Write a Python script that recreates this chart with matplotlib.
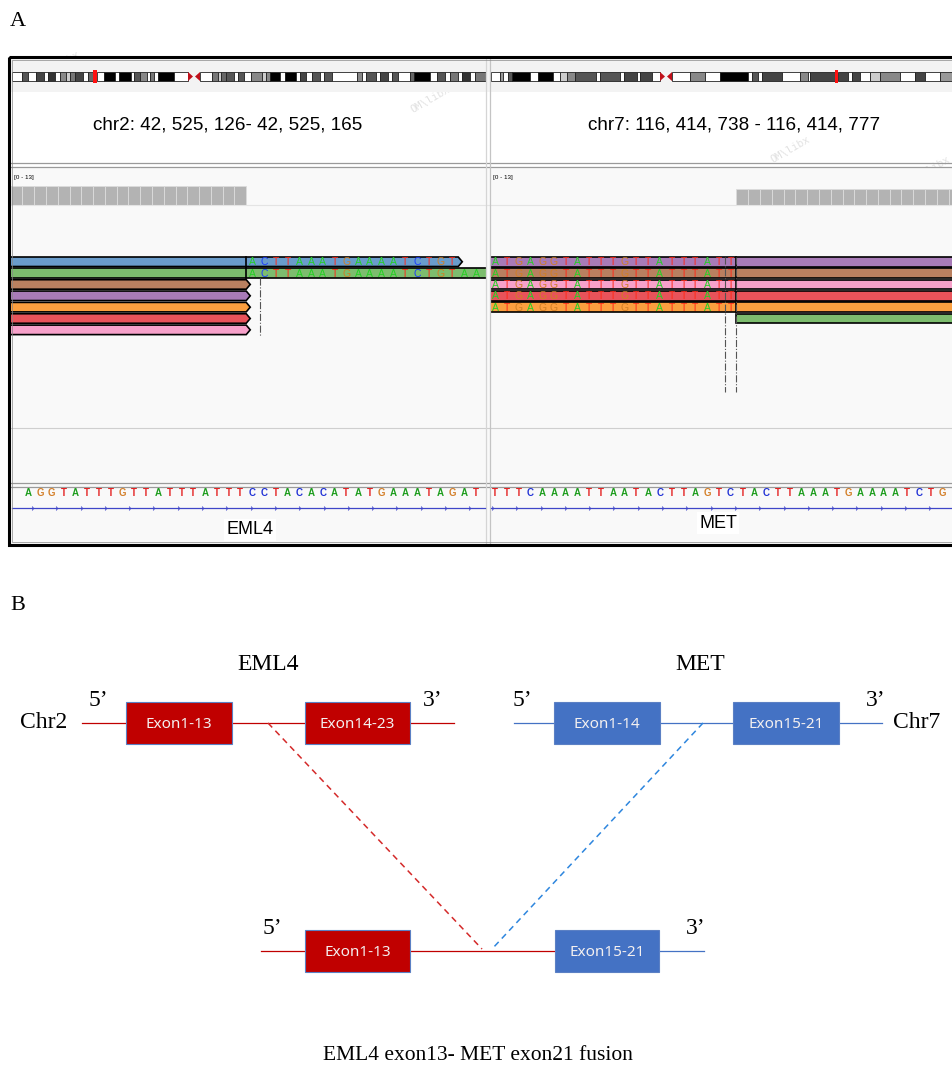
import matplotlib.pyplot as plt
from matplotlib.patches import Rectangle, Polygon
import numpy as np

plt.rcParams['font.family'] = ['Liberation Sans', 'DejaVu Sans']
SERIF = ['Liberation Serif', 'DejaVu Serif']

# ---------------- data ----------------
# reference sequences shown under the two IGV windows
eml4_ref = "AGGTATTTGTTATTTATTTCCTACACATATGAAATAGAT"
met_ref = "TTTCAAAATTAATACTTAGTCTACTTAAATGAAAATCTG"

eml4_locus = "chr2: 42, 525, 126- 42, 525, 165"
met_locus = "chr7: 116, 414, 738 - 116, 414, 777"

# EML4 side reads (top to bottom): colour, last aligned base, soft-clipped bases
eml4_read_colors = ['#6a9ccb', '#7dbd6e', '#b98060', '#a87bb7', '#fb9f3f', '#e8535a', '#f7a1ca']
eml4_aligned_end = [18, 18, 18, 18, 18, 18, 18]
eml4_softclip = ["ACTTAAATGAAAATCTGT", "ACTTAAATGAAAATCTGTAA", "", "", "", "", ""]
eml4_read_open = [False, True, False, False, False, False, False]  # read runs on past the window
eml4_junction = [19.7]

# MET side reads: colour, first aligned base, soft-clipped bases before it
met_read_colors = ['#a87bb7', '#b98060', '#f7a1ca', '#e8535a', '#fb9f3f', '#7dbd6e']
met_aligned_start = [21, 21, 21, 21, 21, 21]
met_softclip = ["ATGAGGTATTTGTTATTTATT"] * 5 + [""]
met_junction = [19.5, 20.5]

# coverage (reads per base) over the visible bases
eml4_cov_bases = np.arange(-1, 19)
eml4_cov = [7] * 20
met_cov_bases = np.arange(21, 40)
met_cov = [6] * 19

# cytobands of the ideograms: edges (px) and stain
chr2_edges = [12, 22, 28, 36, 44, 48, 55, 60, 66, 70, 75, 83, 88, 93, 97, 104, 115, 119, 131, 134,
              140, 147, 150, 154, 158, 174, 188, 200, 212, 218, 221, 226, 234, 238, 244, 251, 262,
              266, 270, 280, 285, 296, 300, 306, 312, 320, 324, 332, 357, 362, 366, 376, 380, 388,
              392, 398, 410, 414, 430, 437, 445, 450, 458, 462, 470, 475, 486]
chr2_stain = ['w', '#555', 'w', '#444', 'w', '#333', 'w', '#888', '#ccc', '#777', '#444', 'w', '#666',
              'red', 'w', 'k', 'w', 'k', 'w', '#555', '#888', 'w', '#777', 'w', 'k', 'w', 'cen', 'w',
              '#777', '#ccc', '#666', '#555', 'w', '#555', 'w', '#888', '#ccc', '#888', 'k', 'w', 'k',
              'w', '#444', 'w', '#555', 'w', '#555', 'w', '#888', 'w', '#555', 'w', '#444', 'w',
              '#555', 'w', '#666', 'k', 'w', '#555', 'w', '#777', 'w', '#333', 'w', '#777']
chr7_edges = [491, 500, 503, 508, 512, 530, 538, 553, 560, 567, 575, 596, 600, 620, 624, 637, 640,
              652, 660, 672, 690, 705, 720, 748, 752, 758, 762, 782, 800, 808, 810, 835, 838, 848,
              852, 860, 870, 880, 900, 915, 925, 940, 955]
chr7_stain = ['w', '#999', 'w', '#555', 'k', 'w', 'k', 'w', '#ccc', '#888', '#555', 'w', '#555',
              'w', '#444', 'w', '#444', 'w', 'cen', 'w', '#888', 'w', 'k', 'w', '#555', 'w', '#444',
              'w', '#888', 'w', '#444', 'red', '#444', 'w', '#444', 'w', '#ccc', '#888', 'w', '#444',
              'w', '#999']

# panel B
gene_titles = ['EML4', 'MET']
eml4_exons = ['Exon1-13', 'Exon14-23']
met_exons = ['Exon1-14', 'Exon15-21']
fusion_exons = ['Exon1-13', 'Exon15-21']
caption = "EML4 exon13- MET exon21 fusion"

watermark_xy = [(60, 65), (250, 70), (430, 100), (410, 185), (250, 250), (150, 330), (330, 330),
                (420, 380), (270, 460), (60, 430), (520, 200), (620, 240), (790, 150), (930, 170),
                (820, 250), (900, 330), (760, 300), (600, 400), (800, 400), (540, 320), (650, 500),
                (870, 520), (140, 520), (360, 520)]

base_col_ref = {'A': '#1f9e1f', 'C': '#2233d6', 'G': '#d4802a', 'T': '#e42424'}
base_col_read = {'A': '#25d025', 'C': '#1c3cff', 'G': '#cf7f25', 'T': '#ff2a1a'}

BASE0 = {'L': 28.3, 'R': 495.0}
BASE_W = 11.78
PANEL_X = {'L': (11, 486), 'R': (491, 953)}


def bx(side, i):
    return BASE0[side] + BASE_W * i


W, H = 953, 1065
fig = plt.figure(figsize=(W / 100, H / 100), dpi=100)
ax = fig.add_axes([0, 0, 1, 1])
ax.set_xlim(0, W)
ax.set_ylim(H, 0)
ax.axis('off')

# ---------------- panel A: IGV view ----------------
ax.text(10, 22, 'A', fontsize=16, family=SERIF, va='center', ha='left')

ax.add_patch(Rectangle((10, 59), 950, 33, color='#f3f3f3', lw=0))
ax.add_patch(Rectangle((10, 168), 950, 377, color='#f9f9f9', lw=0))
for y in (163, 167, 483, 487):
    ax.plot([10, 953], [y, y], color='#9a9a9a', lw=0.9)
ax.plot([10, 953], [205, 205], color='#e4e4e4', lw=0.8)
ax.plot([10, 953], [428, 428], color='#cfcfcf', lw=0.8)
for x, c in ((486, '#d5d5d5'), (490, '#c4c4c4')):
    ax.plot([x, x], [59, 545], color=c, lw=0.9)

clipL = Rectangle((11, 59), 475, 486, transform=ax.transData)
clipR = Rectangle((491, 59), 470, 486, transform=ax.transData)


def ideogram(edges, stain, clip):
    yt, yb = 72, 81
    for x0, x1, s in zip(edges[:-1], edges[1:], stain):
        if s == 'cen':
            xm = (x0 + x1) / 2
            ax.add_patch(Polygon([(x0, yt), (xm - 1, (yt + yb) / 2), (x0, yb)], color='#c0101a', lw=0))
            ax.add_patch(Polygon([(x1, yt), (xm + 1, (yt + yb) / 2), (x1, yb)], color='#c0101a', lw=0))
            continue
        fc = {'w': 'white', 'k': 'black', 'red': '#ff1010'}.get(s, s)
        p = Rectangle((x0, yt), x1 - x0, yb - yt, facecolor=fc, edgecolor='#222', lw=0.6)
        if s == 'red':
            p = Rectangle((x0, yt - 2), x1 - x0, yb - yt + 4, facecolor=fc, lw=0)
        ax.add_patch(p)
        p.set_clip_path(clip)


ideogram(chr2_edges, chr2_stain, clipL)
ideogram(chr7_edges, chr7_stain, clipR)

ax.text(228, 125, eml4_locus, fontsize=13.6, ha='center', va='center')
ax.text(734, 125, met_locus, fontsize=13.6, ha='center', va='center')
ax.text(14, 178, '[0 - 13]', fontsize=4.5, va='center')
ax.text(493, 178, '[0 - 13]', fontsize=4.5, va='center')

# coverage
for side, bases, cov, clip in (('L', eml4_cov_bases, eml4_cov, clipL),
                               ('R', met_cov_bases, met_cov, clipR)):
    hts = np.array(cov) * 2.6
    bars = ax.bar([bx(side, b) for b in bases], -hts, bottom=204.5, width=BASE_W,
                  color='#b3b3b3', edgecolor='#dcdcdc', lw=0.6)
    for b in bars:
        b.set_clip_path(clip)

ROW0, PITCH, RH = 257, 11.35, 9.5


def read_letters(side, first, seq, y):
    lo, hi = PANEL_X[side]
    for k, b in enumerate(seq):
        x = bx(side, first + k)
        if lo + 3 < x < hi - 3:
            ax.text(x, y, b, color=base_col_read[b], fontsize=7.5, ha='center', va='center')


# EML4 reads
for r, (c, end, sc, op) in enumerate(zip(eml4_read_colors, eml4_aligned_end, eml4_softclip,
                                        eml4_read_open)):
    yt, yb = ROW0 + PITCH * r, ROW0 + PITCH * r + RH
    xe = bx('L', end + 0.5)
    xf = bx('L', end + 0.5 + len(sc))
    if op:
        xf, tip = 500, 0
    else:
        tip = 4
    p = Polygon([(0, yt), (xf, yt), (xf + tip, (yt + yb) / 2), (xf, yb), (0, yb)],
                facecolor=c, edgecolor='black', lw=1.2, joinstyle='miter')
    ax.add_patch(p)
    p.set_clip_path(clipL)
    if sc:
        ax.plot([xe, xe], [yt, yb], color='black', lw=1.2)
        read_letters('L', end + 1, sc, (yt + yb) / 2 + 0.5)
for j in eml4_junction:
    ax.plot([bx('L', j)] * 2, [ROW0 + PITCH * 2 - 2, ROW0 + PITCH * 7], color='#555',
            lw=0.8, ls='-.')

# MET reads
for r, (c, st, sc) in enumerate(zip(met_read_colors, met_aligned_start, met_softclip)):
    yt, yb = ROW0 + PITCH * r, ROW0 + PITCH * r + RH
    xs = bx('R', st - 0.5)
    x0 = bx('R', st - 0.5 - len(sc))
    p = Rectangle((x0, yt), 980 - x0, RH, facecolor=c, edgecolor='black', lw=1.2)
    ax.add_patch(p)
    p.set_clip_path(clipR)
    if sc:
        ax.plot([xs, xs], [yt, yb], color='black', lw=1.2)
        read_letters('R', st - len(sc), sc, (yt + yb) / 2 + 0.5)
for j in met_junction:
    ax.plot([bx('R', j)] * 2, [ROW0, 392], color='#555', lw=0.8, ls='-.')

# reference sequence + gene track
for side, seq in (('L', eml4_ref), ('R', met_ref)):
    for k, b in enumerate(seq):
        ax.text(bx(side, k), 493, b, color=base_col_ref[b], fontsize=7, fontweight='bold',
                ha='center', va='center')
ax.plot([12, 485], [508, 508], color='#3f46c8', lw=0.9)
ax.plot([491, 953], [508, 508], color='#3f46c8', lw=0.9)
for x0, x1 in ((33, 480), (493, 953)):
    xs = np.arange(x0, x1, 24.3)
    ax.plot(xs, [508] * len(xs), ls='none', marker='4', ms=3.5, mew=0.7, color='#3f46c8')
ax.text(250, 530, 'EML4', fontsize=13, ha='center', va='center',
        bbox=dict(facecolor='white', edgecolor='none', pad=1.5))
ax.text(718, 523, 'MET', fontsize=13, ha='center', va='center',
        bbox=dict(facecolor='white', edgecolor='none', pad=1.5))

for x, y in watermark_xy:
    ax.text(x, y, 'OM\\libx', fontsize=7.5, color='#e2e2e2', rotation=30,
            ha='center', va='center', family='DejaVu Sans Mono', zorder=0.5)

ax.add_patch(Rectangle((9, 57), 960, 488, fill=False, edgecolor='black', lw=2.2, zorder=10))
ax.add_patch(Rectangle((12, 60), 960, 482, fill=False, edgecolor='#888', lw=0.5, zorder=10))

# ---------------- panel B: fusion diagram ----------------
RED, BLUE = '#c00000', '#4472c4'
ax.text(10, 605, 'B', fontsize=16, family=SERIF, va='center', ha='left')
ax.text(268, 665, gene_titles[0], fontsize=17, family=SERIF, ha='center', va='center')
ax.text(700, 665, gene_titles[1], fontsize=17, family=SERIF, ha='center', va='center')


def exon(x0, x1, yc, color, label):
    ax.add_patch(Rectangle((x0, yc - 21), x1 - x0, 42, facecolor=color, edgecolor='#5b80c4',
                           lw=0.8, zorder=3))
    ax.text((x0 + x1) / 2, yc + 1, label, color='#f4f0f0', fontsize=11, ha='center',
            va='center', family=['Noto Sans', 'DejaVu Sans'], zorder=4)


y1, y2 = 723, 951
ax.plot([82, 454], [y1, y1], color=RED, lw=0.9)
exon(126, 232, y1, RED, eml4_exons[0])
exon(305, 410, y1, RED, eml4_exons[1])
ax.plot([514, 882], [y1, y1], color=BLUE, lw=0.9)
exon(554, 660, y1, BLUE, met_exons[0])
exon(733, 839, y1, BLUE, met_exons[1])

ax.plot([261, 555], [y2, y2], color=RED, lw=0.9)
ax.plot([659, 704], [y2, y2], color=BLUE, lw=0.9)
exon(305, 410, y2, RED, fusion_exons[0])
exon(555, 659, y2, BLUE, fusion_exons[1])

ax.plot([268, 482], [y1, y2 - 2], color='#d42a2a', lw=1.1, ls=(0, (4, 3)))
ax.plot([703, 492], [y1, y2 - 2], color='#2e86de', lw=1.1, ls=(0, (4, 3)))

for x, y, s in ((98, 700, '5\u2019'), (433, 700, '3\u2019'), (522, 700, '5\u2019'),
                (876, 700, '3\u2019'), (272, 928, '5\u2019'), (696, 928, '3\u2019')):
    ax.text(x, y, s, fontsize=17, family=SERIF, ha='center', va='center')
ax.text(20, 723, 'Chr2', fontsize=17, family=SERIF, ha='left', va='center')
ax.text(893, 723, 'Chr7', fontsize=17, family=SERIF, ha='left', va='center')

ax.text(478, 1055, caption, fontsize=15.5, family=SERIF, ha='center', va='center')

fig.savefig('out.png', dpi=100)
